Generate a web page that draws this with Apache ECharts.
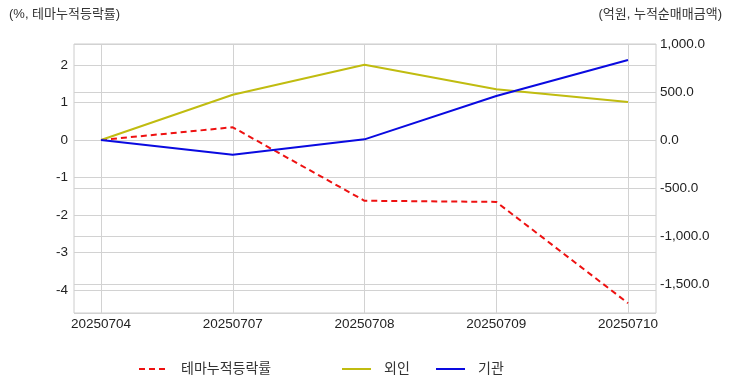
<!DOCTYPE html>
<html>
<head>
<meta charset="utf-8">
<script src="https://cdn.jsdelivr.net/npm/echarts@6/dist/echarts.min.js"></script>
<style>
html,body{margin:0;padding:0;background:#fff;}
#c{width:732px;height:392px;}
</style>
</head>
<body>
<div id="c"></div>
<script>
const categories = ['20250704','20250707','20250708','20250709','20250710'];
const themeRate = [0, 0.34, -1.62, -1.65, -4.35];
const foreign = [0, 472, 784, 528, 396];
const institution = [0, -153, 7, 458, 833];
const seriesNames = ['테마누적등락률','외인','기관'];
const leftTitle = '(%, 테마누적등락률)';
const rightTitle = '(억원, 누적순매매금액)';

const FONT = '"Liberation Sans", "Noto Sans CJK KR", sans-serif';
const GRID_COLOR = '#d2d2d2';
const LMIN = -4.613, LMAX = 2.56, RMIN = -1802, RMAX = 1000;

const chart = echarts.init(document.getElementById('c'));
function leftFmt(v){ return Math.abs(v - Math.round(v)) < 1e-6 ? String(Math.round(v)) : ''; }
function rightFmt(v){
  const r = Math.round(v);
  if (Math.abs(v - r) > 1e-6 || r % 500 !== 0) return '';
  return r.toLocaleString('en-US',{minimumFractionDigits:1, maximumFractionDigits:1});
}
const legendBase = {
  orient:'horizontal', top:362, padding:0, itemWidth:29, itemHeight:14,
  itemStyle:{opacity:0},
  textStyle:{fontFamily:FONT, fontSize:14, color:'#333', padding:[0,0,0,8]}
};
chart.setOption({
  animation:false,
  textStyle:{fontFamily:FONT},
  grid:[
    {left:74, right:76, top:44, bottom:79, show:true, borderColor:'#cccccc', borderWidth:1, backgroundColor:'transparent'},
    {left:101, right:104, top:44, bottom:79}
  ],
  graphic:[
    {type:'text', left:9, top:8, style:{text:leftTitle, font:'13px '+FONT, fill:'#333'}},
    {type:'text', right:10, top:8, style:{text:rightTitle, font:'13px '+FONT, fill:'#333'}}
  ],
  legend:[
    Object.assign({}, legendBase, {left:138, data:[seriesNames[0]]}),
    Object.assign({}, legendBase, {left:341, data:[seriesNames[1]]}),
    Object.assign({}, legendBase, {left:435, data:[seriesNames[2]]})
  ],
  xAxis:[
    {gridIndex:0, type:'category', data:categories, boundaryGap:false, show:false},
    {gridIndex:1, type:'category', data:categories, boundaryGap:false,
     axisLine:{show:false}, axisTick:{show:false},
     axisLabel:{fontFamily:FONT, fontSize:13.5, color:'#222', margin:5},
     splitLine:{show:true, lineStyle:{color:GRID_COLOR, width:1}}}
  ],
  yAxis:[
    {gridIndex:0, type:'value', position:'left', min:LMIN, max:LMAX, minInterval:1, maxInterval:1,
     axisLine:{show:false}, axisTick:{show:false},
     axisLabel:{formatter:leftFmt, fontFamily:FONT, fontSize:13.5, color:'#222', margin:6, showMinLabel:false, showMaxLabel:false},
     splitLine:{show:true, lineStyle:{color:GRID_COLOR, width:1}}},
    {gridIndex:0, type:'value', position:'right', min:RMIN, max:RMAX, minInterval:500, maxInterval:500,
     axisLine:{show:false}, axisTick:{show:false},
     axisLabel:{formatter:rightFmt, fontFamily:FONT, fontSize:13.5, color:'#222', margin:4, showMinLabel:false},
     splitLine:{show:true, lineStyle:{color:GRID_COLOR, width:1}}},
    {gridIndex:1, type:'value', min:LMIN, max:LMAX, show:false, splitLine:{show:false}},
    {gridIndex:1, type:'value', min:RMIN, max:RMAX, show:false, splitLine:{show:false}}
  ],
  series:[
    {name:seriesNames[0], type:'line', xAxisIndex:1, yAxisIndex:2, data:themeRate, symbol:'none',
     lineStyle:{color:'#ee1111', width:2, type:[6,4]}, itemStyle:{color:'#ee1111'}},
    {name:seriesNames[1], type:'line', xAxisIndex:1, yAxisIndex:3, data:foreign, symbol:'none',
     lineStyle:{color:'#c0bc10', width:2}, itemStyle:{color:'#c0bc10'}},
    {name:seriesNames[2], type:'line', xAxisIndex:1, yAxisIndex:3, data:institution, symbol:'none',
     lineStyle:{color:'#0a0ae0', width:2}, itemStyle:{color:'#0a0ae0'}}
  ]
});
</script>
</body>
</html>
